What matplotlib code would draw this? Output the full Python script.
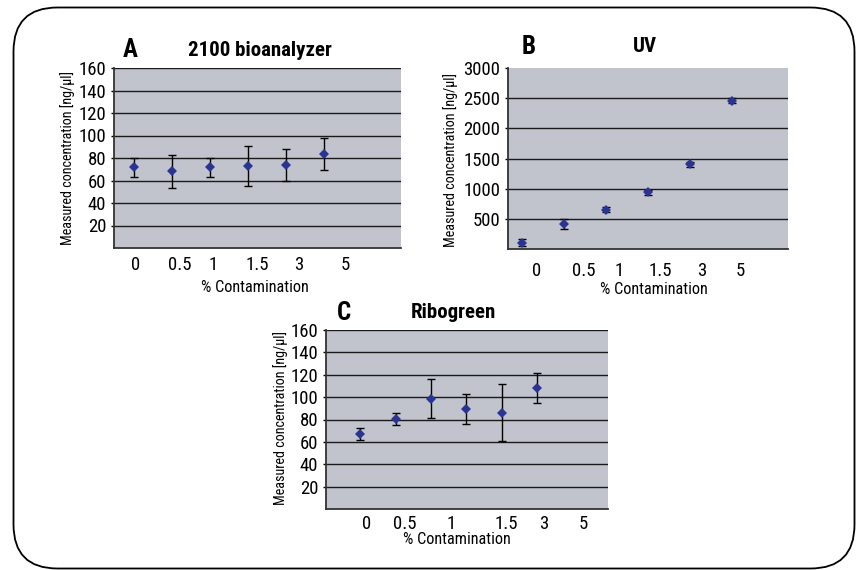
import matplotlib
matplotlib.use("Agg")
import matplotlib.pyplot as plt
from matplotlib import font_manager
from matplotlib.patches import FancyBboxPatch

# the reference uses a condensed face; take whatever narrow one is installed
names = {f.name for f in font_manager.fontManager.ttflist}
narrow = [n for n in ['Liberation Sans Narrow', 'Roboto Condensed', 'Open Sans Condensed']
          if n in names]
plt.rcParams['font.family'] = narrow + ['DejaVu Sans']
plt.rcParams['font.stretch'] = 'condensed'

W, H = 857, 570

# category labels shared by the three panels
categories = ['0', '0.5', '1', '1.5', '3', '5']

# A: 2100 bioanalyzer
bio_mean = [71.8, 68.2, 71.8, 72.7, 73.9, 83.5]
bio_err = [8.5, 14.5, 8.5, 18.0, 14.5, 14.5]

# B: UV
uv_mean = [104, 417, 648, 940, 1402, 2459]
uv_err = [60, 85, 40, 40, 40, 40]

# C: Ribogreen
ribo_mean = [67.0, 80.4, 98.4, 89.4, 86.0, 108.2]
ribo_err = [5.5, 5.0, 17.5, 13.5, 25.5, 13.5]

BG = '#c1c4cc'
MARK = '#2a3593'


def px(x, y):
    """Pixel position -> figure fraction."""
    return x / W, 1 - y / H


def box(l, t, r, b):
    return [l / W, 1 - b / H, (r - l) / W, (b - t) / H]


def panel(rect, mean, err, xlim, label_pos, ylim, yticks, label_pad, top_grid=True):
    ax = fig.add_axes(rect)
    ax.set_facecolor(BG)
    x = list(range(1, len(mean) + 1))
    ax.errorbar(x, mean, yerr=err, fmt='none', ecolor='black', elinewidth=1.0,
                capsize=2.6, capthick=1.0, zorder=3)
    ax.plot(x, mean, linestyle='none', marker='D', markersize=5.5,
            color=MARK, markeredgewidth=0, zorder=4)
    ax.set_xlim(*xlim)
    ax.set_ylim(*ylim)
    ax.set_yticks(yticks)
    ax.set_xticks(label_pos)
    ax.set_xticklabels(categories)
    ax.grid(axis='y', color='#1a1a1a', linewidth=1.0)
    if not top_grid:
        ax.yaxis.get_gridlines()[-1].set_visible(False)
    ax.set_axisbelow(True)
    for s in ['top', 'right']:
        ax.spines[s].set_visible(False)
    for s in ['left', 'bottom']:
        ax.spines[s].set_color('#333333')
        ax.spines[s].set_linewidth(1.3)
    ax.tick_params(axis='y', length=2.5, width=1.0, pad=3, labelsize=13.5)
    ax.tick_params(axis='x', length=0, pad=label_pad, labelsize=13.5)
    return ax


fig = plt.figure(figsize=(W / 100, H / 100), dpi=100)

# rounded frame around the whole figure
frame = fig.add_axes([0, 0, 1, 1])
frame.set_xlim(0, W)
frame.set_ylim(H, 0)
frame.axis('off')
frame.add_patch(FancyBboxPatch((13.5, 7.5), 841, 561, boxstyle='round,pad=0,rounding_size=44',
                               facecolor='white', edgecolor='black', linewidth=1.3))

panel(box(114, 68, 401, 248), bio_mean, bio_err, (0.47, 8.03),
      [1.03, 2.21, 3.08, 4.24, 5.34, 6.55], (0, 160), range(20, 161, 20), 5.5)
panel(box(508, 68, 788, 249), uv_mean, uv_err, (0.66, 7.33),
      [1.33, 2.46, 3.32, 4.29, 5.28, 6.19], (0, 3000), range(500, 3001, 500), 9,
      top_grid=False)
panel(box(326, 330, 608, 509), ribo_mean, ribo_err, (0.03, 8.0),
      [1.17, 2.25, 3.56, 5.12, 6.18, 7.31], (0, 160), range(20, 161, 20), 4.5)

# panel letters and titles
for letter, title, lx, tx, ty in [('A', '2100 bioanalyzer', 130, 260, 50),
                                   ('B', 'UV', 529, 645, 47),
                                   ('C', 'Ribogreen', 344, 453, 313)]:
    fig.text(*px(lx, ty), letter, fontsize=18, fontweight='bold', ha='center', va='center')
    fig.text(*px(tx, ty), title, fontsize=15, fontweight='bold', ha='center', va='center')

# axis titles
for xx, yy in [(255, 288), (654, 289), (457, 539)]:
    fig.text(*px(xx, yy), '% Contamination', fontsize=11.7, ha='center', va='center')
for xx, yy in [(68, 158), (451, 160), (281, 418)]:
    fig.text(*px(xx, yy), 'Measured concentration [ng/µl]', fontsize=10.2,
             rotation=90, ha='center', va='center')

fig.savefig('out.png', dpi=100)
